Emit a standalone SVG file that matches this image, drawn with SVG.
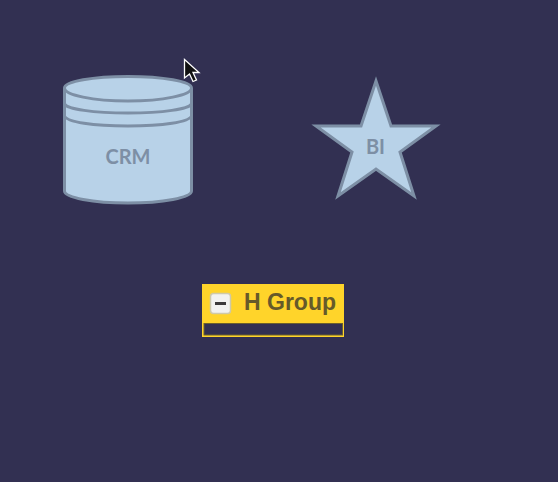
<svg xmlns="http://www.w3.org/2000/svg" width="558" height="482" viewBox="0 0 558 482">
<style>
.shape{fill:#b8d2e8;stroke:#7d8fa5;stroke-width:3;stroke-linejoin:miter}
.line{fill:none;stroke:#7d8fa5;stroke-width:3}
.label{font-family:"Lato","Liberation Sans",sans-serif;font-weight:700;font-size:20px;fill:#7d8fa5;text-anchor:middle}
</style>
<rect width="558" height="482" fill="#323052"/>
<g id="connectors"/>
<g id="crm">
<path class="shape" d="M64.500 88V191C64.500 197.500 93 203 128 203S191.500 197.500 191.500 191V88C191.500 81.500 163 76.500 128 76.500S64.500 81.500 64.500 88Z"/>
<path class="line" d="M64.500 88C64.500 95 93 101 128 101S191.500 95 191.500 88M64.500 104C67 109 93 113 128 113S189 109 191.500 104M64.500 116C67 122 93 126 128 126S189 122 191.500 116"/>
<text class="label" x="128" y="164">CRM</text>
</g>
<g id="bi">
<polygon class="shape" points="376,81 391,126 436,126 400,152 414,196 376,169 338,196 352,152 316,126 361,126"/>
<text class="label" x="375.500" y="154">BI</text>
</g>
<g id="h-group">
<rect x="202" y="284" width="142" height="53" fill="#ffd42a"/>
<rect x="204" y="323.500" width="138.500" height="11.500" fill="#323052" stroke="#6b5f2e" stroke-width="1"/>
<rect x="210.500" y="293.500" width="20" height="20" rx="3" fill="#f2f2f0" stroke="#cfc9a8" stroke-width="1.500"/>
<rect x="215" y="302" width="11" height="3" fill="#3c3a3a"/>
<text x="244" y="310" font-family="'Liberation Sans',Arial,sans-serif" font-weight="700" font-size="23px" fill="#665a2a">H Group</text>
</g>
<path id="cursor" d="M184.500 59.500V78L189.500 74L193 81.500L196.500 80L193 72.500H199Z" fill="#111" stroke="#fff" stroke-width="1.300"/>
</svg>
